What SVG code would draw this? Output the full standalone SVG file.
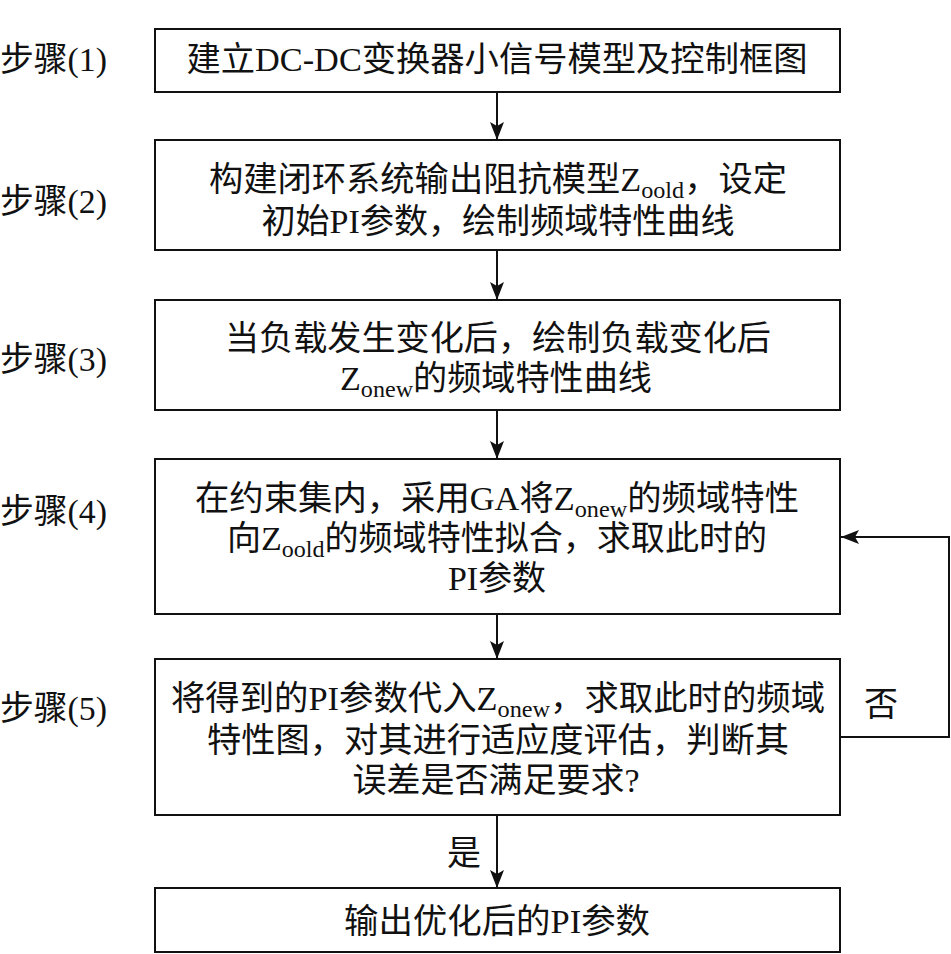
<svg xmlns="http://www.w3.org/2000/svg" width="951" height="954" viewBox="0 0 951 954">
<style>
.box{fill:#fff;stroke:#111;stroke-width:2}
.t{font-family:"Liberation Serif","Noto Sans CJK SC",serif;font-size:34px;fill:#111;text-anchor:middle}
.l{font-family:"Liberation Serif","Noto Sans CJK SC",serif;font-size:34px;fill:#111}
.sub{font-size:24px}
.c{fill:none;stroke:#111;stroke-width:2}
</style>
<defs>
<marker id="ah" markerUnits="userSpaceOnUse" markerWidth="18" markerHeight="14" refX="18" refY="7" orient="auto">
<path d="M0,0 L18,7 L0,14 L4,7 z" fill="#111"/>
</marker>
</defs>
<rect width="951" height="954" fill="#fff"/>
<g id="labels">
<text class="l" x="0" y="71" textLength="107" lengthAdjust="spacingAndGlyphs">步骤(1)</text>
<text class="l" x="0" y="213" textLength="107" lengthAdjust="spacingAndGlyphs">步骤(2)</text>
<text class="l" x="0" y="371" textLength="107" lengthAdjust="spacingAndGlyphs">步骤(3)</text>
<text class="l" x="0" y="523" textLength="107" lengthAdjust="spacingAndGlyphs">步骤(4)</text>
<text class="l" x="0" y="720" textLength="107" lengthAdjust="spacingAndGlyphs">步骤(5)</text>
</g>
<g id="connectors">
<line class="c" x1="497" y1="92" x2="497" y2="140" marker-end="url(#ah)"/>
<line class="c" x1="497" y1="250" x2="497" y2="300" marker-end="url(#ah)"/>
<line class="c" x1="497" y1="410" x2="497" y2="459" marker-end="url(#ah)"/>
<line class="c" x1="497" y1="614" x2="497" y2="659" marker-end="url(#ah)"/>
<line class="c" x1="497" y1="815" x2="497" y2="888" marker-end="url(#ah)"/>
<polyline class="c" points="840,737 949,737 949,537 841,537" marker-end="url(#ah)"/>
<text class="t" x="881" y="716">否</text>
<text class="t" x="464" y="865">是</text>
</g>
<g id="step1">
<rect class="box" x="155" y="29" width="685" height="63"/>
<text class="t" x="497" y="71" textLength="621" lengthAdjust="spacingAndGlyphs">建立DC-DC变换器小信号模型及控制框图</text>
</g>
<g id="step2">
<rect class="box" x="155" y="140" width="685" height="110"/>
<text class="t" x="498" y="191" textLength="578" lengthAdjust="spacingAndGlyphs">构建闭环系统输出阻抗模型Z<tspan class="sub" dy="7">oold</tspan><tspan dy="-7">，设定</tspan></text>
<text class="t" x="498" y="233" textLength="473" lengthAdjust="spacingAndGlyphs">初始PI参数，绘制频域特性曲线</text>
</g>
<g id="step3">
<rect class="box" x="155" y="300" width="685" height="110"/>
<text class="t" x="498" y="350" textLength="546" lengthAdjust="spacingAndGlyphs">当负载发生变化后，绘制负载变化后</text>
<text class="t" x="496" y="390" textLength="312" lengthAdjust="spacingAndGlyphs">Z<tspan class="sub" dy="7">onew</tspan><tspan dy="-7">的频域特性曲线</tspan></text>
</g>
<g id="step4">
<rect class="box" x="155" y="459" width="685" height="155"/>
<text class="t" x="497" y="510" textLength="604" lengthAdjust="spacingAndGlyphs">在约束集内，采用GA将Z<tspan class="sub" dy="7">onew</tspan><tspan dy="-7">的频域特性</tspan></text>
<text class="t" x="497" y="550" textLength="540" lengthAdjust="spacingAndGlyphs">向Z<tspan class="sub" dy="7">oold</tspan><tspan dy="-7">的频域特性拟合，求取此时的</tspan></text>
<text class="t" x="497" y="590" textLength="98" lengthAdjust="spacingAndGlyphs">PI参数</text>
</g>
<g id="step5">
<rect class="box" x="155" y="659" width="685" height="156"/>
<text class="t" x="498" y="710" textLength="654" lengthAdjust="spacingAndGlyphs">将得到的PI参数代入Z<tspan class="sub" dy="7">onew</tspan><tspan dy="-7">，求取此时的频域</tspan></text>
<text class="t" x="498" y="752" textLength="582" lengthAdjust="spacingAndGlyphs">特性图，对其进行适应度评估，判断其</text>
<text class="t" x="496" y="792" textLength="287" lengthAdjust="spacingAndGlyphs">误差是否满足要求?</text>
</g>
<g id="step6">
<rect class="box" x="155" y="888" width="685" height="64"/>
<text class="t" x="497" y="933" textLength="306" lengthAdjust="spacingAndGlyphs">输出优化后的PI参数</text>
</g>
</svg>
